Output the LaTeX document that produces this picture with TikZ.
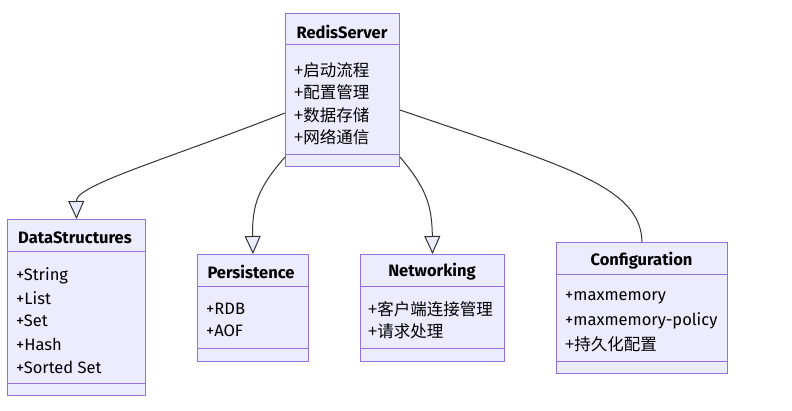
\documentclass[tikz,border=0pt]{standalone}
\usepackage{fontspec}
\setmainfont{Fira Sans}
\newfontfamily\cjk{Noto Sans CJK SC}
\usetikzlibrary{arrows.meta,calc}
\definecolor{boxfill}{HTML}{ECECFF}
\definecolor{boxline}{HTML}{9370DB}
\definecolor{edgecol}{HTML}{333333}
\tikzset{
  cls/.style={draw=boxline, fill=boxfill, line width=1pt, anchor=north west, inner sep=0pt},
  divider/.style={draw=boxline, line width=1pt},
  ttl/.style={font=\fontsize{16.5}{19}\selectfont\bfseries, text=black, inner sep=0pt},
  itm/.style={font=\fontsize{16.5}{19}\selectfont, text=black, anchor=west, inner sep=0pt},
  inherit/.style={draw=edgecol, line width=1pt, -{Triangle[length=18pt,width=16pt,fill=boxfill,line width=1pt]}},
  assoc/.style={draw=edgecol, line width=1pt}
}
\begin{document}
\begin{tikzpicture}[x=1pt,y=-1pt]
\useasboundingbox (0,0) rectangle (792,411);
% RedisServer
\node[cls, minimum width=114pt, minimum height=153pt] (rs) at (285,13) {};
\draw[divider] (285,45) -- (399,45);
\draw[divider] (285,155) -- (399,155);
\node[ttl] (rst) at (342,32) {RedisServer};
\node[itm] (rs1) at (294,70) {\cjk +启动流程};
\node[itm] (rs2) at (294,92) {\cjk +配置管理};
\node[itm] (rs3) at (294,115) {\cjk +数据存储};
\node[itm] (rs4) at (294,137) {\cjk +网络通信};
% DataStructures
\node[cls, minimum width=138pt, minimum height=176pt] (ds) at (7,219) {};
\draw[divider] (7,252) -- (145,252);
\draw[divider] (7,383) -- (145,383);
\node[ttl] (dst) at (75,238) {DataStructures};
\node[itm] (ds1) at (16,276) {+String};
\node[itm] (ds2) at (16,298) {+List};
\node[itm] (ds3) at (16,321) {+Set};
\node[itm] (ds4) at (16,344) {+Hash};
\node[itm] (ds5) at (16,367) {+Sorted Set};
% Persistence
\node[cls, minimum width=111pt, minimum height=107pt] (pe) at (197,254) {};
\draw[divider] (197,287) -- (308,287);
\draw[divider] (197,349) -- (308,349);
\node[ttl] (pet) at (251,272) {Persistence};
\node[itm] (pe1) at (206,309) {+RDB};
\node[itm] (pe2) at (206,331) {+AOF};
% Networking
\node[cls, minimum width=144pt, minimum height=107pt] (nw) at (360,254) {};
\draw[divider] (360,287) -- (504,287);
\draw[divider] (360,349) -- (504,349);
\node[ttl] (nwt) at (432,272) {Networking};
\node[itm] (nw1) at (368,309) {\cjk +客户端连接管理};
\node[itm] (nw2) at (368,331) {\cjk +请求处理};
% Configuration
\node[cls, minimum width=171pt, minimum height=131pt] (cf) at (556,242) {};
\draw[divider] (556,275) -- (727,275);
\draw[divider] (556,361) -- (727,361);
\node[ttl] (cft) at (641.5,261) {Configuration};
\node[itm] (cf1) at (565,298) {+maxmemory};
\node[itm] (cf2) at (565,321) {+maxmemory-policy};
\node[itm] (cf3) at (565,344) {\cjk +持久化配置};
% edges
\draw[inherit] ($(rs.north west)+(0,100)$) .. controls (165,160) and (76,185) .. (ds.north);
\draw[inherit] ($(rs.north west)+(0,144)$) .. controls (258,188) and (252,205) .. (pe.north);
\draw[inherit] ($(rs.north east)+(0,144)$) .. controls (426,188) and (432,205) .. (nw.north);
\draw[assoc] ($(rs.north east)+(0,97)$) .. controls (560,165) and (641,185) .. (cf.north);
\end{tikzpicture}
\end{document}
